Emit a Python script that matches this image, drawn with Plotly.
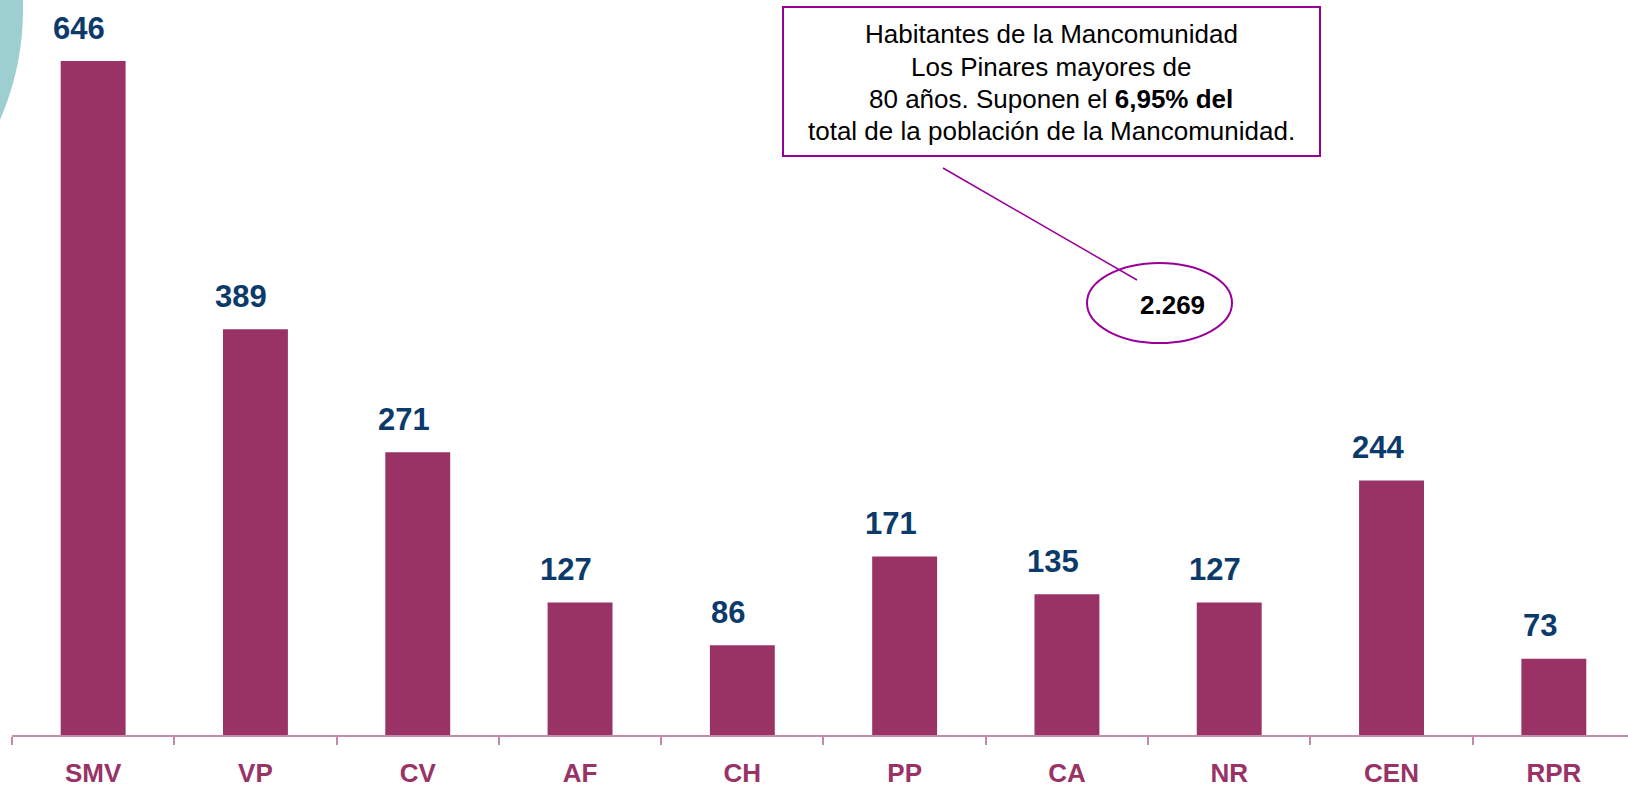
import plotly.graph_objects as go

categories = ["SMV", "VP", "CV", "AF", "CH", "PP", "CA", "NR", "CEN", "RPR"]
values = [646, 389, 271, 127, 86, 171, 135, 127, 244, 73]
total_label = "2.269"
note_lines = [
    "Habitantes de la Mancomunidad",
    "Los Pinares mayores de",
    "80 años. Suponen el <b>6,95% del</b>",
    "total de la población de la Mancomunidad.",
]

W, H = 1628, 787
ML, MR, MT, MB = 12, 0, 0, 52
PW, PH = W - ML - MR, H - MT - MB
FONT = "Liberation Sans, Arial, sans-serif"
BAR = "#993366"
AXIS = "#C48AA8"
PURPLE = "#990099"
BLUE = "#0B3A6B"


def px(x):
    return (x - ML) / PW


def py(y):
    return (MT + PH - y) / PH


fig = go.Figure()
fig.add_trace(go.Bar(
    x=categories, y=values, width=0.4,
    marker=dict(color=BAR, line=dict(width=0)),
    hoverinfo="x+y",
))

annotations = []
for c, v in zip(categories, values):
    annotations.append(dict(
        x=c, y=v, xref="x", yref="y", text=f"<b>{v}</b>", showarrow=False,
        yanchor="middle", yshift=33, xshift=-14,
        font=dict(family=FONT, size=31, color=BLUE),
    ))

line_y = [34, 66.5, 98.5, 131]
for t, yy in zip(note_lines, line_y):
    annotations.append(dict(
        x=px(1051), y=py(yy), xref="paper", yref="paper", text=t,
        showarrow=False, xanchor="center", yanchor="middle",
        font=dict(family=FONT, size=26, color="#000000"),
    ))

annotations.append(dict(
    x=px(1172), y=py(305), xref="paper", yref="paper", text=f"<b>{total_label}</b>",
    showarrow=False, xanchor="center", yanchor="middle",
    font=dict(family=FONT, size=26, color="#000000"),
))

shapes = [
    # decorative teal circle
    dict(type="circle", xref="paper", yref="paper", layer="below",
         x0=px(-523), x1=px(23), y0=py(283), y1=py(-263),
         fillcolor="#9ECFD0", line=dict(width=0)),
    # note box
    dict(type="rect", xref="paper", yref="paper",
         x0=px(783), x1=px(1320), y0=py(156), y1=py(7),
         line=dict(color=PURPLE, width=2), fillcolor="rgba(0,0,0,0)"),
    # connector
    dict(type="line", xref="paper", yref="paper",
         x0=px(943), y0=py(168), x1=px(1137), y1=py(280),
         line=dict(color=PURPLE, width=1.5)),
    # ellipse
    dict(type="circle", xref="paper", yref="paper",
         x0=px(1087), x1=px(1232), y0=py(343), y1=py(263),
         line=dict(color=PURPLE, width=2)),
]

fig.update_layout(
    width=W, height=H,
    margin=dict(l=ML, r=MR, t=MT, b=MB, pad=0),
    paper_bgcolor="white", plot_bgcolor="white",
    showlegend=False,
    annotations=annotations,
    shapes=shapes,
)
fig.update_xaxes(
    type="category", range=[-0.5, 9.457],
    showline=True, linecolor=AXIS, linewidth=1.5,
    ticks="outside", tickson="boundaries", ticklen=8, tickcolor=AXIS, tickwidth=1.5,
    tickfont=dict(family=FONT, size=26, color=BAR),
    tickprefix="<b>", ticksuffix="</b>",
    ticklabelstandoff=14,
    showgrid=False, zeroline=False,
)
fig.update_yaxes(range=[0, 704.5], visible=False, showgrid=False, zeroline=False)

fig.write_html(
    "out.html",
    config={"displayModeBar": False},
    post_script="document.body.style.margin='0';document.body.style.overflow='hidden';",
)
